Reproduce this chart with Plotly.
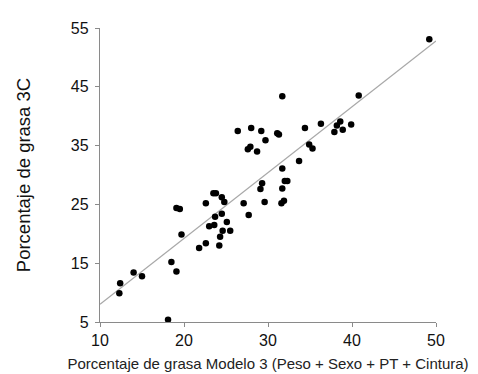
import plotly.graph_objects as go

modelo3 = [12.3, 12.4, 14.0, 15.0, 18.1, 18.5, 19.1, 19.1, 19.5, 19.7,
           21.8, 22.6, 22.6, 23.0, 23.5, 23.8, 24.5, 24.8, 23.7, 24.5,
           25.1, 23.6, 24.6, 25.5, 24.3, 24.2, 27.1, 27.7, 29.6, 31.6,
           31.9, 29.3, 29.1, 31.7, 32.0, 32.3, 31.7, 33.7, 31.7, 26.4,
           28.0, 29.2, 31.1, 31.3, 29.7, 27.6, 27.9, 28.7, 34.4, 36.3,
           38.6, 38.2, 39.9, 37.9, 38.9, 34.9, 35.3, 40.8, 49.2]
grasa3c = [9.9, 11.6, 13.4, 12.8, 5.4, 15.2, 13.6, 24.4, 24.2, 19.9,
           17.6, 18.4, 25.2, 21.3, 26.9, 26.9, 26.2, 25.4, 22.9, 23.4,
           22.0, 21.5, 20.5, 20.5, 19.5, 18.0, 25.2, 23.2, 25.4, 25.2,
           25.6, 28.6, 27.6, 27.7, 29.0, 29.0, 31.1, 32.4, 43.4, 37.5,
           38.0, 37.5, 37.1, 36.9, 35.9, 34.4, 34.8, 34.0, 38.0, 38.7,
           39.1, 38.4, 38.6, 37.3, 37.7, 35.2, 34.5, 43.5, 53.1]

fit_x = [10, 50]
fit_y = [8.0, 52.8]

x_ticks = [10, 20, 30, 40, 50]
y_ticks = [5, 15, 25, 35, 45, 55]

fig = go.Figure()
fig.add_trace(go.Scatter(x=fit_x, y=fit_y, mode="lines",
                         line=dict(color="#a8a8a8", width=1.3),
                         showlegend=False, hoverinfo="skip"))
fig.add_trace(go.Scatter(x=modelo3, y=grasa3c, mode="markers",
                         marker=dict(color="black", size=6.5),
                         showlegend=False))

font = "Liberation Sans, Arial, sans-serif"
fig.update_layout(
    width=478, height=374,
    margin=dict(l=92, r=50, t=16, b=56),
    paper_bgcolor="white", plot_bgcolor="white",
    font=dict(family=font, color="#111111"),
    xaxis=dict(range=[10, 50], tickvals=x_ticks, showgrid=False, zeroline=False,
               showline=True, linecolor="#8a8a8a", linewidth=1.3,
               ticks="outside", ticklen=4, tickcolor="#8a8a8a",
               tickfont=dict(size=16, family=font, color="#111111"),
               title=dict(text="Porcentaje de grasa Modelo 3 (Peso + Sexo + PT + Cintura)",
                          font=dict(size=15, family=font, color="#222222"), standoff=10)),
    yaxis=dict(range=[5, 55], tickvals=y_ticks, showgrid=False, zeroline=False,
               showline=True, linecolor="#8a8a8a", linewidth=1.3,
               ticks="outside", ticklen=4, tickcolor="#8a8a8a",
               ticklabelstandoff=3,
               tickfont=dict(size=16, family=font, color="#111111"),
               title=dict(text="Porcentaje de grasa 3C",
                          font=dict(size=18.5, family=font, color="#111111"), standoff=35)),
)

fig.write_html("out.html")
